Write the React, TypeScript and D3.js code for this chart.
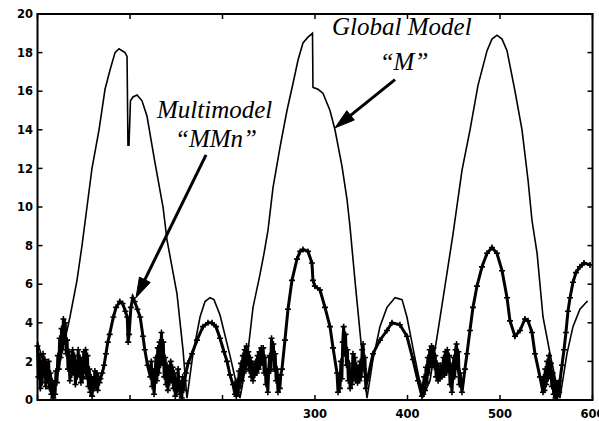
import React from 'react';
import * as d3 from 'd3';

const WIDTH = 599;
const HEIGHT = 421;

const xTicks = [0, 100, 200, 300, 400, 500, 600];
const xTickLabels = [300, 400, 500, 600];
const yTicks = [0, 2, 4, 6, 8, 10, 12, 14, 16, 18, 20];

// Global Model "M" (thin line)
const globalModel: [number, number][] = [
  [0, 3.0], [4.9, 2.2], [11.4, 1.0], [16.8, 0.2], [22.2, 1.4], [27.6, 2.8], [31.9, 3.6], [35.1, 4.3],
  [42.7, 6.2], [48.1, 8.0], [53.5, 10.0], [58.9, 12.0], [66.5, 14.0], [73.0, 16.1], [78.4, 17.1],
  [83.8, 18.0], [88.1, 18.2], [94.6, 18.0], [96.8, 17.8], [97.8, 13.2], [98.9, 13.2], [100.5, 15.5],
  [103.2, 15.7], [107.6, 15.8], [113.0, 15.5], [118.4, 14.7], [121.6, 13.8], [127.0, 12.3], [135.7, 10.0],
  [140.0, 8.3], [145.4, 6.9], [150.8, 5.5], [157.3, 2.6], [161.6, 0.1], [168.1, 2.4], [175.7, 4.3],
  [181.1, 5.1], [186.5, 5.3], [190.8, 5.2], [197.3, 4.4], [208.1, 2.3], [215.7, 0.7], [218.9, 0.1],
  [226.5, 2.1], [233.0, 4.8], [240.5, 6.5], [244.9, 7.6], [249.2, 8.8], [254.6, 11.0], [262.2, 13.1],
  [269.7, 15.0], [276.2, 16.4], [281.6, 17.6], [287.0, 18.5], [292.4, 18.8], [297.3, 19.0], [297.8, 16.2],
  [303.2, 16.1], [308.6, 15.9], [316.2, 15.0], [321.6, 14.0], [329.2, 12.1], [334.6, 10.4], [337.8, 9.0],
  [343.2, 6.2], [349.7, 3.0], [356.2, 0.1], [362.7, 2.1], [370.2, 3.8], [377.8, 4.8], [386.5, 5.3],
  [394.1, 5.2], [399.4, 4.3], [405.9, 2.7], [411.3, 1.4], [416.8, 0.2], [424.3, 1.0], [433.0, 3.6],
  [440.5, 5.9], [446.0, 7.6], [449.2, 8.6], [458.9, 11.9], [467.6, 14.0], [476.2, 16.3], [486.0, 18.1],
  [491.3, 18.7], [496.8, 18.9], [502.2, 18.7], [507.6, 18.1], [516.2, 16.0], [523.8, 14.0], [530.3, 11.4],
  [534.6, 9.3], [540.1, 7.6], [546.5, 4.3], [554.1, 2.4], [561.6, 0.7], [564.8, 0.1], [572.4, 2.4],
  [578.9, 3.8], [586.4, 4.7], [594.1, 5.1], [595.1, 5.1],
];

// Multimodel "MMn" (thick line with + markers)
const multiModel: [number, number][] = [
  [0, 2.8], [1, 1.2], [2, 2.3], [3, 0.6], [4, 1.9], [5, 0.9], [6, 2.4], [7, 1.3], [8, 2.1], [9, 0.7],
  [10, 1.8], [11, 1.0], [12, 2.0], [13, 0.6], [14, 1.4], [15, 0.3], [16, 1.0], [17, 0.1], [18, 0.8], [19, 0.3],
  [20, 1.5], [21, 0.9], [22, 2.3], [23, 1.6], [24, 3.2], [25, 2.2], [26, 3.7], [27, 2.6], [28, 4.2], [29, 3.0],
  [30, 4.0], [31, 2.4], [32, 3.1], [33, 1.6], [34, 2.5], [35, 1.0], [36, 2.2], [37, 1.3], [38, 2.6], [39, 1.5],
  [40, 2.3], [41, 0.8], [42, 1.9], [43, 1.2], [44, 2.6], [45, 1.4], [46, 2.2], [47, 0.9], [48, 2.0], [49, 1.1],
  [50, 2.5], [51, 1.5], [52, 2.6], [53, 1.2], [54, 2.3], [55, 0.7], [56, 1.6], [57, 0.4], [58, 1.2], [59, 0.2],
  [60, 1.0], [61, 0.6], [62, 1.5], [63, 0.8], [64, 1.4], [65, 0.5], [66, 1.2], [67, 0.9],
  [68, 1.1], [70, 1.4], [72, 1.8], [74, 2.4], [76, 3.0], [78, 3.4], [82, 4.3], [85, 4.8], [89, 5.1], [92, 5.0],
  [95, 4.6], [97, 4.3], [98, 3.0], [99, 3.4], [101, 4.8], [103, 5.3], [105, 5.1], [108, 4.7], [111, 4.3],
  [114, 3.3], [116, 2.6], [119, 1.8], [122, 1.2],
  [123, 2.0], [124, 0.7], [125, 1.5], [126, 0.3], [127, 1.1], [128, 2.2], [129, 1.0], [130, 2.7], [131, 1.4],
  [132, 3.0], [133, 1.8], [134, 3.5], [135, 2.0], [136, 3.0], [137, 1.2], [138, 2.2], [139, 0.8], [140, 1.8],
  [141, 0.5], [142, 1.6], [143, 0.9], [144, 2.0], [145, 1.1], [146, 1.7], [147, 0.6], [148, 1.4], [149, 0.2],
  [150, 1.0], [151, 0.5], [152, 1.6], [153, 0.8], [154, 0.3], [155, 0.9], [156, 0.1], [157, 1.2], [158, 0.5],
  [159, 1.0],
  [160.5, 1.4], [162.7, 1.9], [167.0, 2.4], [172.4, 3.1], [178.9, 3.8], [184.3, 4.0], [188.6, 4.0],
  [193.0, 3.8], [197.3, 3.2], [201.6, 2.5], [204.9, 2.0], [208.1, 1.3], [211.3, 0.8], [213.5, 0.3],
  [214, 0.9], [215, 0.2], [216, 1.0], [217, 0.4], [218, 1.5], [219, 0.7], [220, 1.9], [221, 1.0], [222, 2.3],
  [223, 1.4], [224, 2.6], [225, 1.6], [226, 2.8], [227, 1.9], [228, 2.5], [229, 1.5], [230, 2.2], [231, 1.2],
  [232, 1.9], [233, 1.0], [234, 1.7], [235, 1.3], [236, 2.0], [237, 1.4], [238, 2.3], [239, 1.6], [240, 2.5],
  [241, 1.8], [242, 2.7], [243, 2.0], [244, 2.7], [245, 1.4], [246, 2.2], [247, 0.8], [248, 1.5], [249, 0.4],
  [250, 1.6], [251, 2.3], [252, 1.5], [253, 3.2], [254, 2.2], [255, 2.9], [256, 1.6], [257, 2.4], [258, 1.0],
  [259, 1.6], [260, 0.4], [261, 1.1], [262, 0.6], [263, 1.3],
  [264.3, 1.6], [267.5, 3.1], [270.8, 4.7], [275.1, 6.2], [280.5, 7.3], [284, 7.7], [287.0, 7.8],
  [292.4, 7.7], [296.7, 7.1], [297.8, 6.2], [299.9, 5.9], [305.4, 5.7], [310.8, 4.8], [316.2, 3.8],
  [319.5, 2.7], [323.8, 1.4], [324.9, 0.4],
  [326, 1.2], [327, 0.6], [328, 2.0], [329, 1.1], [330, 3.0], [331, 3.8], [332, 2.4], [333, 3.4], [334, 1.8],
  [335, 2.6], [336, 1.0], [337, 1.9], [338, 0.6], [339, 1.4], [340, 0.8], [341, 2.4], [342, 1.2], [343, 2.2],
  [344, 1.0], [345, 1.8], [346, 0.9], [347, 1.6], [348, 1.0], [349, 2.0], [350, 1.2], [351, 2.6], [352, 2.9],
  [353, 1.6], [354, 2.2], [355, 0.6], [356, 1.0],
  [357.3, 1.2], [362.7, 2.4], [370.2, 3.1], [377.8, 3.6], [383.2, 4.0], [391.8, 3.9], [399.4, 3.3],
  [405.9, 2.1], [411.3, 1.0], [415.6, 0.2],
  [416, 0.8], [417, 0.3], [418, 1.2], [419, 0.5], [420, 1.7], [421, 0.9], [422, 2.2], [423, 1.4], [424, 2.6],
  [425, 1.8], [426, 2.8], [427, 2.1], [428, 2.7], [429, 1.7], [430, 2.3], [431, 1.2], [432, 1.9], [433, 1.0],
  [434, 1.6], [435, 1.1], [436, 1.8], [437, 1.2], [438, 1.6], [439, 2.2], [440, 1.3], [441, 2.5], [442, 1.4],
  [443, 2.6], [444, 1.6], [445, 2.3], [446, 0.8], [447, 1.8], [448, 0.4], [449, 1.3], [450, 2.2], [451, 1.2],
  [452, 2.6], [453, 2.9], [454, 1.6], [455, 2.5], [456, 0.8], [457, 1.4],
  [458.9, 0.4], [462.1, 1.6], [464.3, 2.4], [467.5, 3.6], [470.8, 4.8], [475.1, 5.9], [480.5, 6.9],
  [486.0, 7.6], [491.3, 7.9], [496.7, 7.6], [502.2, 6.7], [507.6, 5.3], [510.8, 4.1], [516.2, 3.3],
  [521.6, 3.6], [527.0, 4.2], [530.3, 4.1], [534.6, 3.5], [537.8, 2.4], [543.2, 1.2], [546.5, 0.4],
  [547, 1.2], [548, 0.5], [549, 1.6], [550, 0.8], [551, 2.0], [552, 1.1], [553, 2.3], [554, 1.3], [555, 1.9],
  [556, 0.7], [557, 1.4], [558, 0.3], [559, 1.0], [560, 0.1], [561, 0.8], [562, 0.2], [563, 0.9], [564, 0.4],
  [564.8, 1.0], [567, 1.8], [569.2, 2.6], [571.3, 3.5], [573.5, 4.6], [575.7, 5.3], [578.9, 6.1],
  [582.1, 6.6], [586.4, 6.9], [590.8, 7.1], [597.3, 7.0],
];

const annotationTexts = [
  { text: 'Global Model', x: 318.4, y: 18.9, anchor: 'start' },
  { text: '\u201CM\u201D', x: 396.2, y: 17.1, anchor: 'middle' },
  { text: 'Multimodel', x: 129.2, y: 14.6, anchor: 'start' },
  { text: '\u201CMMn\u201D', x: 193, y: 13.1, anchor: 'middle' },
];

const annotationArrows: { from: [number, number]; to: [number, number] }[] = [
  { from: [386.5, 16.6], to: [321.6, 14.1] },
  { from: [182.2, 12.7], to: [106.5, 5.3] },
];

export default function App() {
  const x = d3.scaleLinear().domain([0, 600]).range([37.5, 592.5]);
  const y = d3.scaleLinear().domain([0, 20]).range([400, 14]);
  const line = d3.line<[number, number]>().x((d) => x(d[0])).y((d) => y(d[1]));

  const [x0, x1] = x.range();
  const [yb, yt] = y.range();
  const tickLen = 5;

  const markers = multiModel
    .map((d) => {
      const px = x(d[0]);
      const py = y(d[1]);
      return `M${px - 3},${py}h6M${px},${py - 3}v6`;
    })
    .join('');

  const arrows = annotationArrows.map((a, i) => {
    const fx = x(a.from[0]);
    const fy = y(a.from[1]);
    const tx = x(a.to[0]);
    const ty = y(a.to[1]);
    const dx = tx - fx;
    const dy = ty - fy;
    const len = Math.hypot(dx, dy);
    const ux = dx / len;
    const uy = dy / len;
    const L = 20;
    const w = 6;
    const bx = tx - L * ux;
    const by = ty - L * uy;
    const head = `M${tx},${ty}L${bx - w * uy},${by + w * ux}L${bx + w * uy},${by - w * ux}Z`;
    return (
      <g key={i}>
        <line x1={fx} y1={fy} x2={tx - L * 0.7 * ux} y2={ty - L * 0.7 * uy} stroke="#000" strokeWidth={3} />
        <path d={head} fill="#000" stroke="#000" strokeWidth={1} />
      </g>
    );
  });

  return (
    <svg
      width={WIDTH}
      height={HEIGHT}
      style={{ position: 'absolute', left: 0, top: 0, background: '#fff' }}
    >
      <rect x={0} y={0} width={WIDTH} height={HEIGHT} fill="#fff" />
      {/* data */}
      <path d={line(globalModel) || ''} fill="none" stroke="#000" strokeWidth={1.6} />
      <path d={line(multiModel) || ''} fill="none" stroke="#000" strokeWidth={3} />
      <path d={markers} fill="none" stroke="#000" strokeWidth={1.6} />
      {/* frame */}
      <rect x={x0} y={yt} width={x1 - x0} height={yb - yt} fill="none" stroke="#000" strokeWidth={2} />
      {yTicks.map((t) => (
        <g key={'y' + t}>
          <line x1={x0} x2={x0 + tickLen} y1={y(t)} y2={y(t)} stroke="#000" strokeWidth={1.5} />
          <line x1={x1} x2={x1 - tickLen} y1={y(t)} y2={y(t)} stroke="#000" strokeWidth={1.5} />
          <text
            x={33}
            y={y(t)}
            dy="0.36em"
            textAnchor="end"
            fontFamily="DejaVu Sans"
            fontWeight="bold"
            fontSize={11.5}
          >
            {t}
          </text>
        </g>
      ))}
      {xTicks.map((t) => (
        <g key={'x' + t}>
          <line x1={x(t)} x2={x(t)} y1={yb} y2={yb - tickLen} stroke="#000" strokeWidth={1.5} />
          <line x1={x(t)} x2={x(t)} y1={yt} y2={yt + tickLen} stroke="#000" strokeWidth={1.5} />
        </g>
      ))}
      {xTickLabels.map((t) => (
        <text
          key={'xl' + t}
          x={x(t)}
          y={418}
          textAnchor="middle"
          fontFamily="DejaVu Sans"
          fontWeight="bold"
          fontSize={11.5}
        >
          {t}
        </text>
      ))}
      {/* annotations */}
      {arrows}
      {annotationTexts.map((a, i) => (
        <text
          key={'a' + i}
          x={x(a.x)}
          y={y(a.y)}
          textAnchor={a.anchor}
          fontFamily="Liberation Serif"
          fontStyle="italic"
          fontSize={25}
        >
          {a.text}
        </text>
      ))}
    </svg>
  );
}
